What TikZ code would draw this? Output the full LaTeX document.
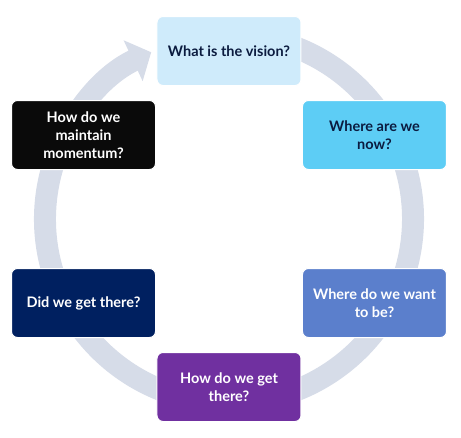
\documentclass[tikz,border=0pt]{standalone}
\usepackage{fontspec}
\setmainfont{Lato}
\usetikzlibrary{arrows.meta}
\definecolor{ringgray}{HTML}{D6DCE8}
\definecolor{visionfill}{HTML}{CFEBFB}
\definecolor{nowfill}{HTML}{5DCDF5}
\definecolor{wantfill}{HTML}{5B7FCC}
\definecolor{getfill}{HTML}{7030A0}
\definecolor{didfill}{HTML}{002060}
\definecolor{keepfill}{HTML}{0A0A0A}
\definecolor{darktext}{HTML}{0B1B3F}

\begin{document}
\begin{tikzpicture}[x=1pt, y=1pt, font=\bfseries\fontsize{14.5}{18}\selectfont,
    stage/.style={rectangle, rounded corners=6pt, minimum width=144pt,
      minimum height=69pt, align=center, draw=white, line width=1pt, text=white}]
  \useasboundingbox (-229,-218) rectangle (232,219);

  % the cycle ring, clockwise, ending in the arrow head
  \draw[ringgray, line width=22pt, -{Triangle[length=20pt, width=44pt]}]
    (80:184pt) arc[start angle=80, end angle=-245, radius=184pt];

  \node[stage, fill=visionfill, text=darktext] (vision) at (90:168pt) {What is the vision?};
  \node[stage, fill=nowfill, text=darktext] (now) at (30:168pt) {Where are we\\now?};
  \node[stage, fill=wantfill] (want) at (-30:168pt) {Where do we want\\to be?};
  \node[stage, fill=getfill] (get) at (-90:168pt) {How do we get\\there?};
  \node[stage, fill=didfill] (did) at (-150:168pt) {Did we get there?};
  \node[stage, fill=keepfill] (keep) at (150:168pt) {How do we\\maintain\\momentum?};
\end{tikzpicture}
\end{document}
